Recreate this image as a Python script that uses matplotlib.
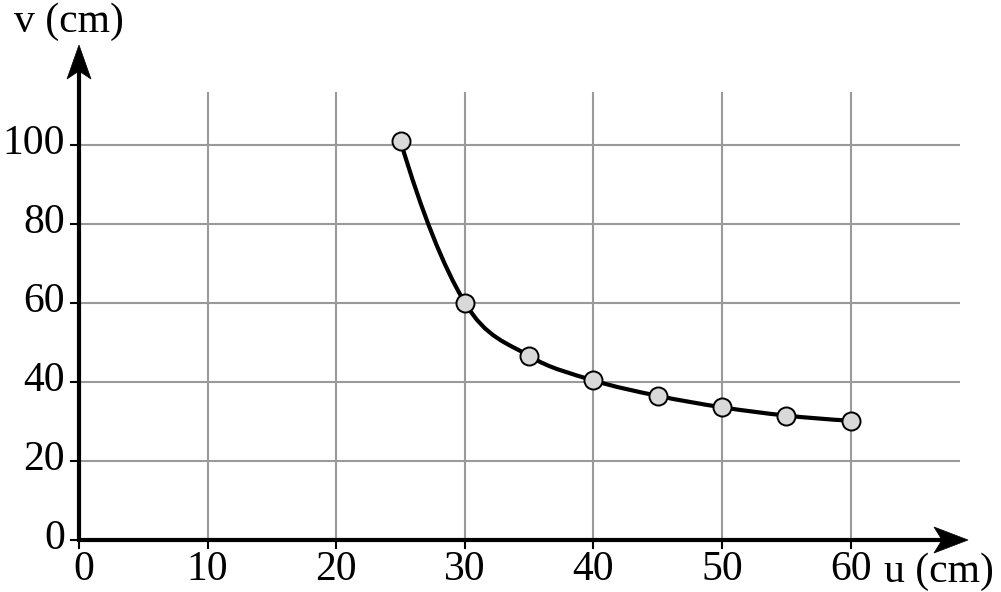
import matplotlib
matplotlib.use("Agg")
import matplotlib.pyplot as plt
from matplotlib.path import Path
from matplotlib.patches import PathPatch, Polygon

u_vals = [25, 30, 35, 40, 45, 50, 55, 60]
v_vals = [101, 60.1, 46.6, 40.4, 36.5, 33.6, 31.5, 30.2]
x_ticks = [0, 10, 20, 30, 40, 50, 60]
y_ticks = [0, 20, 40, 60, 80, 100]
x_label = "u (cm)"
y_label = "v (cm)"

plt.rcParams['font.family'] = ['Liberation Serif', 'DejaVu Serif']

W, H = 1001, 592
fig = plt.figure(figsize=(W / 100, H / 100), dpi=100)
# pixel geometry
x0_px = 79
px_per_x = 12.86
px_per_y = 3.95
y0_px = 540
left_px, right_px = x0_px, 985
bottom_px, top_px = y0_px, 35
xmax = (right_px - left_px) / px_per_x
ymax = (bottom_px - top_px) / px_per_y
ax = fig.add_axes([left_px / W, (H - bottom_px) / H, (right_px - left_px) / W, (bottom_px - top_px) / H])
ax.set_xlim(0, xmax)
ax.set_ylim(0, ymax)
ax.axis('off')


def dx(p):
    return p / px_per_x


def dy(p):
    return p / px_per_y


grid_x_end = dx(960 - x0_px)
grid_y_end = dy(y0_px - 92)
gc = '#9a9a9a'
for xt in x_ticks[1:]:
    ax.plot([xt, xt], [0, grid_y_end], color=gc, lw=1.5, zorder=1, solid_capstyle='butt')
for yt in y_ticks[1:]:
    ax.plot([0, grid_x_end], [yt, yt], color=gc, lw=1.5, zorder=1, solid_capstyle='butt')

# ticks
for xt in x_ticks:
    ax.plot([xt, xt], [0, -dy(8)], color='black', lw=1.5, clip_on=False, zorder=3)
for yt in y_ticks:
    ax.plot([0, -dx(8)], [yt, yt], color='black', lw=1.5, clip_on=False, zorder=3)

# axes lines
ax_lw = 3.0
x_tip = dx(968 - x0_px)
y_tip = dy(y0_px - 45)
ax.plot([-dx(1.5), x_tip - dx(20)], [0, 0], color='black', lw=ax_lw, clip_on=False, zorder=4,
        solid_capstyle='butt')
ax.plot([0, 0], [-dy(1.5), y_tip - dy(20)], color='black', lw=ax_lw, clip_on=False, zorder=4,
        solid_capstyle='butt')
# arrow heads (stealth style)
L, Wd, notch = 34, 13, 8
ax.add_patch(Polygon([(x_tip, 0), (x_tip - dx(L), dy(Wd)), (x_tip - dx(L - notch), 0),
                      (x_tip - dx(L), -dy(Wd))], closed=True, fc='black', ec='black', lw=0.5,
                     clip_on=False, zorder=4))
ax.add_patch(Polygon([(0, y_tip), (dx(12), y_tip - dy(L)), (0, y_tip - dy(L - notch)),
                      (-dx(12), y_tip - dy(L))], closed=True, fc='black', ec='black', lw=0.5,
                     clip_on=False, zorder=4))

# smooth curve via cubic Hermite -> Bezier
n = len(u_vals)
m = [0.0] * n
for i in range(1, n - 1):
    m[i] = (v_vals[i + 1] - v_vals[i - 1]) / (u_vals[i + 1] - u_vals[i - 1])
m[0] = 2 * (v_vals[1] - v_vals[0]) / (u_vals[1] - u_vals[0]) - m[1]
m[-1] = 2 * (v_vals[-1] - v_vals[-2]) / (u_vals[-1] - u_vals[-2]) - m[-2]
verts = [(u_vals[0], v_vals[0])]
codes = [Path.MOVETO]
for i in range(n - 1):
    h = u_vals[i + 1] - u_vals[i]
    verts += [(u_vals[i] + h / 3, v_vals[i] + m[i] * h / 3),
              (u_vals[i + 1] - h / 3, v_vals[i + 1] - m[i + 1] * h / 3),
              (u_vals[i + 1], v_vals[i + 1])]
    codes += [Path.CURVE4] * 3
ax.add_patch(PathPatch(Path(verts, codes), fill=False, lw=3.0, ec='black', zorder=5, capstyle='round'))

ax.plot(u_vals, v_vals, 'o', ms=13, mfc='#d9d9d9', mec='black', mew=1.4, zorder=6, clip_on=False)

fs = 30
for xt in x_ticks:
    ax.text(xt + (dx(5) if xt == 0 else 0), -dy(11), str(xt), ha='center', va='top', fontsize=fs)
for yt in y_ticks:
    ax.text(-dx(14), yt + dy(1), str(yt), ha='right', va='center', fontsize=fs)

fig.text(884 / W, 1 - 572 / H, x_label, ha='left', va='center', fontsize=fs)
fig.text(14 / W, 1 - 22 / H, y_label, ha='left', va='center', fontsize=fs)

fig.savefig('out.png', dpi=100)
